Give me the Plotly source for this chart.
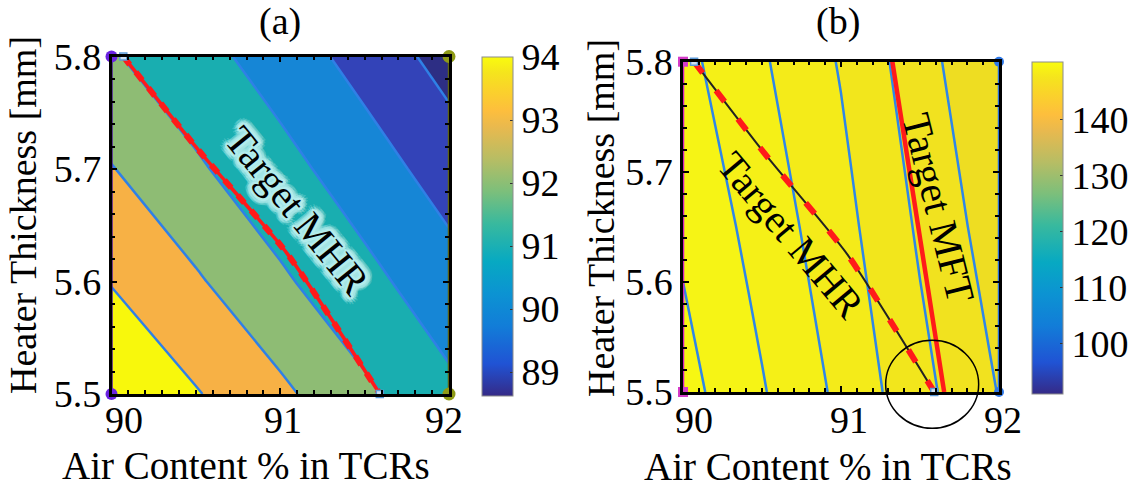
import math
import plotly.graph_objects as go

# ---------------- data ----------------
air = [90.0, 90.5, 91.0, 91.5, 92.0]                 # Air content % in TCRs
thick_a = [5.5, 5.6, 5.7, 5.8]                       # heater thickness (panel a grid)
mhr_a = [[94.28, 93.56, 92.79, 91.87, 91.00],
         [93.46, 92.71, 91.84, 91.05, 90.27],
         [92.64, 91.82, 91.09, 90.33, 89.49],
         [91.78, 91.12, 90.39, 89.56, 88.66]]
thick_b = [5.5, 5.65, 5.8]                           # heater thickness (panel b grid)
mft_b = [[149.68, 149.04, 148.39, 147.65, 146.98],
         [149.41, 148.80, 148.17, 147.43, 146.72],
         [149.14, 148.56, 147.96, 147.21, 146.46]]

levels_a = dict(start=89.0, end=93.5, size=0.9)
levels_b = dict(start=147.0, end=149.5, size=0.5)

target_mhr_x = [90.07, 90.52, 91.04, 91.59]
target_mhr_y = [5.8, 5.716, 5.625, 5.5]
target_mft_x = [91.325, 91.653]
target_mft_y = [5.8, 5.5]

x_ticks = [90, 91, 92]
x_tick_labels = ["90", "91", "92"]
y_ticks = [5.5, 5.6, 5.7, 5.8]
cbar_a_ticks = [89, 90, 91, 92, 93, 94]
cbar_a_range = [88.62, 94.0]
cbar_b_ticks = [100, 110, 120, 130, 140]
cbar_b_range = [91.0, 150.3]

circle_center = (91.577, 5.507)   # highlight circle in panel (b)
circle_radius_px = (46.5, 44)

# ---------------- styling ----------------
FONT = "Liberation Serif"
FS_TICK = 38
FS_XT = 39
FS_YT = 38

parula = [
    [0 / 63, "rgb(53,42,135)"], [6 / 63, "rgb(32,83,212)"], [13 / 63, "rgb(18,125,216)"],
    [19 / 63, "rgb(12,147,210)"], [25 / 63, "rgb(7,169,194)"], [32 / 63, "rgb(56,185,158)"],
    [38 / 63, "rgb(124,191,123)"], [44 / 63, "rgb(183,189,100)"], [50 / 63, "rgb(233,185,78)"],
    [53 / 63, "rgb(253,190,61)"], [57 / 63, "rgb(250,211,42)"], [60 / 63, "rgb(245,228,29)"],
    [63 / 63, "rgb(249,251,14)"],
]

bands_a = ["#2d2e84", "#3343b8", "#1686d6", "#19aeb0", "#8ebc74", "#f7b145", "#f8f80c"]
bands_b = ["#eedd22", "#f1e21f", "#f2e61c", "#f4eb19", "#f5f017", "#f6f415", "#f7f713"]


def band_scale(cols):
    n = len(cols) - 1
    return [[k / n, c] for k, c in enumerate(cols)]


W, H = 1133, 490
dom_ax = [111.5 / W, 449 / W]
dom_ay = [(H - 394) / H, (H - 56.5) / H]
dom_bx = [683 / W, 999 / W]
dom_by = [(H - 392) / H, (H - 61.7) / H]

fig = go.Figure()

# ---- panel (a) contour ----
fig.add_trace(go.Contour(
    x=air, y=thick_a, z=mhr_a, xaxis="x", yaxis="y",
    contours=dict(coloring="fill", showlines=True, **levels_a),
    colorscale=band_scale(bands_a), showscale=False,
    line=dict(color="#2f80e6", width=2.5, smoothing=0.6), hoverinfo="skip"))

# ---- panel (b) contour ----
fig.add_trace(go.Contour(
    x=air, y=thick_b, z=mft_b, xaxis="x2", yaxis="y2",
    contours=dict(coloring="fill", showlines=True, **levels_b),
    colorscale=band_scale(bands_b), showscale=False,
    line=dict(color="#2f86e8", width=2.5, smoothing=0.6), hoverinfo="skip"))

# ---- target lines panel (a) ----
fig.add_trace(go.Scatter(x=target_mhr_x, y=target_mhr_y, xaxis="x", yaxis="y", mode="lines",
                         line=dict(color="#ff1a1a", width=3.5, shape="spline", smoothing=0.6),
                         showlegend=False, hoverinfo="skip"))
fig.add_trace(go.Scatter(x=target_mhr_x, y=target_mhr_y, xaxis="x", yaxis="y", mode="lines",
                         line=dict(color="#ff1a1a", width=6, dash="10px,10px", shape="spline", smoothing=0.6),
                         showlegend=False, hoverinfo="skip"))

# ---- target lines panel (b) ----
fig.add_trace(go.Scatter(x=target_mhr_x, y=target_mhr_y, xaxis="x2", yaxis="y2", mode="lines",
                         line=dict(color="#222222", width=2, shape="spline", smoothing=0.6),
                         showlegend=False, hoverinfo="skip"))
fig.add_trace(go.Scatter(x=target_mhr_x, y=target_mhr_y, xaxis="x2", yaxis="y2", mode="lines",
                         line=dict(color="#ff1a1a", width=6, dash="14px,22px", shape="spline", smoothing=0.6),
                         showlegend=False, hoverinfo="skip"))
fig.add_trace(go.Scatter(x=target_mft_x, y=target_mft_y, xaxis="x2", yaxis="y2", mode="lines",
                         line=dict(color="#ff1a1a", width=4.5),
                         showlegend=False, hoverinfo="skip"))

# ---- edge lines and corner markers ----
edges = [
    ("x", "y", air[0], thick_a, "#4a1a9a", "#6a22e0", 12, "circle"),
    ("x", "y", air[-1], thick_a, "#5d6212", "#8e9a16", 13, "circle"),
    ("x2", "y2", air[0], thick_b, "#d020c0", "#d43cc8", 10, "square"),
    ("x2", "y2", air[-1], thick_b, "#2a6fe0", "#2f78e6", 10, "circle"),
]
for xa, ya, xv, ys, lc, mc, ms, sym in edges:
    fig.add_trace(go.Scatter(x=[xv, xv], y=[ys[0], ys[-1]], xaxis=xa, yaxis=ya, mode="lines+markers",
                             line=dict(color=lc, width=2.5), marker=dict(color=mc, size=ms, symbol=sym),
                             cliponaxis=False, showlegend=False, hoverinfo="skip"))

for xa, ya in [("x", "y"), ("x2", "y2")]:
    fig.add_trace(go.Scatter(x=[target_mhr_x[0], target_mhr_x[-1]], y=[target_mhr_y[0], target_mhr_y[-1]],
                             xaxis=xa, yaxis=ya, mode="markers",
                             marker=dict(symbol="square", size=7, color="#cfe0f2",
                                         line=dict(color="#5c9ad8", width=1.5)),
                             cliponaxis=False, showlegend=False, hoverinfo="skip"))

# ---- colorbars (continuous parula) ----
cb_common = dict(thickness=31, thicknessmode="pixels", lenmode="pixels", xanchor="left", yanchor="middle",
                 xpad=0, ypad=0, outlinecolor="#8c8c8c", outlinewidth=1, ticks="inside", ticklen=3,
                 tickcolor="#333333", tickfont=dict(family=FONT, size=FS_TICK, color="black"))
fig.add_trace(go.Scatter(x=[None], y=[None], xaxis="x", yaxis="y", mode="markers",
                         marker=dict(color=[cbar_a_range[1]], cmin=cbar_a_range[0], cmax=cbar_a_range[1],
                                     colorscale=parula, showscale=True,
                                     colorbar=dict(x=481.5 / W, y=(H - 226.5) / H, len=339,
                                                   tickvals=cbar_a_ticks, **cb_common)),
                         showlegend=False, hoverinfo="skip"))
fig.add_trace(go.Scatter(x=[None], y=[None], xaxis="x2", yaxis="y2", mode="markers",
                         marker=dict(color=[cbar_b_range[1]], cmin=cbar_b_range[0], cmax=cbar_b_range[1],
                                     colorscale=parula, showscale=True,
                                     colorbar=dict(x=1032 / W, y=(H - 227.8) / H, len=332,
                                                   tickvals=cbar_b_ticks, **cb_common)),
                         showlegend=False, hoverinfo="skip"))

# ---- axes ----
tickfont = dict(family=FONT, size=FS_TICK, color="black")


def xaxis(domain, anchor):
    return dict(domain=domain, anchor=anchor, range=[air[0], air[-1]], tickvals=x_ticks,
                showticklabels=False,
                showline=True, linecolor="black", linewidth=2.5, mirror="ticks",
                ticks="inside", ticklen=6, tickwidth=1.5, tickcolor="black",
                minor=dict(ticks="inside", dtick=0.1, ticklen=4, tickwidth=1.5, tickcolor="black", showgrid=False),
                showgrid=False, zeroline=False, automargin=False)


def yaxis(domain, anchor, rng):
    return dict(domain=domain, anchor=anchor, range=[rng[0], rng[-1]], tickvals=y_ticks,
                ticktext=[f"{v:.1f}" for v in y_ticks],
                showline=True, linecolor="black", linewidth=2.5, mirror="ticks",
                ticks="inside", ticklen=6, tickwidth=1.5, tickcolor="black",
                minor=dict(ticks="inside", dtick=0.02, ticklen=4, tickwidth=1.5, tickcolor="black", showgrid=False),
                showgrid=False, zeroline=False, tickfont=tickfont, automargin=False)


fig.update_layout(
    width=W, height=H, margin=dict(l=0, r=0, t=0, b=0),
    paper_bgcolor="white", plot_bgcolor="white", showlegend=False,
    font=dict(family=FONT, color="black"),
    xaxis=xaxis(dom_ax, "y"), yaxis=yaxis(dom_ay, "x", thick_a),
    xaxis2=xaxis(dom_bx, "y2"), yaxis2=yaxis(dom_by, "x2", thick_b),
)

# ---- x tick labels (nudged as in the original export) ----
for xa, shifts in [("x", [12, 3, -5]), ("x2", [11, 8, 4])]:
    for v, t, s in zip(x_ticks, x_tick_labels, shifts):
        fig.add_annotation(text=t, xref=xa, yref="paper", x=v, y=(H - 420) / H, xshift=s, showarrow=False,
                           font=dict(family=FONT, size=FS_TICK, color="black"),
                           xanchor="center", yanchor="middle")

# ---- panel titles & axis titles (paper positioned) ----
titles = [
    ("(a)", 280 / W, (H - 22) / H, 0, FS_TICK),
    ("(b)", 838 / W, (H - 22) / H, 0, FS_TICK),
    ("Air Content % in TCRs", 246 / W, (H - 465) / H, 0, FS_XT),
    ("Air Content % in TCRs", 828 / W, (H - 466) / H, 0, FS_XT),
    ("Heater Thickness [mm]", 23 / W, (H - 215) / H, -90, FS_YT),
    ("Heater Thickness [mm]", 601 / W, (H - 218) / H, -90, FS_YT),
]
for txt, px, py, ang, fs in titles:
    fig.add_annotation(text=txt, xref="paper", yref="paper", x=px, y=py, showarrow=False, textangle=ang,
                       font=dict(family=FONT, size=fs, color="black"), xanchor="center", yanchor="middle")


# ---- rotated in-plot labels ----
def label(text, xa, ya, x, y, angle, glow=False):
    if glow:
        for r, col in [(7, "rgba(160,228,228,0.30)"), (5, "rgba(165,230,230,0.55)"), (2.5, "#b2ecec")]:
            for k in range(16):
                a = 2 * math.pi * k / 16
                fig.add_annotation(text=text, xref=xa, yref=ya, x=x, y=y, showarrow=False, textangle=angle,
                                   xshift=r * math.cos(a), yshift=r * math.sin(a),
                                   font=dict(family=FONT, size=40, color=col))
    fig.add_annotation(text=text, xref=xa, yref=ya, x=x, y=y, showarrow=False, textangle=angle,
                       font=dict(family=FONT, size=40, color="black"))


label("Target MHR", "x", "y", 91.10, 5.663, 51, glow=True)
label("Target MHR", "x2", "y2", 90.686, 5.6425, 50)
label("Target MFT", "x2", "y2", 91.62, 5.667, 76)

# ---- highlight circle (panel b), positioned in axis-domain units ----
cx = (circle_center[0] - air[0]) / (air[-1] - air[0])
cy = (circle_center[1] - thick_b[0]) / (thick_b[-1] - thick_b[0])
rx = circle_radius_px[0] / ((dom_bx[1] - dom_bx[0]) * W)
ry = circle_radius_px[1] / ((dom_by[1] - dom_by[0]) * H)
fig.add_shape(type="circle", xref="x2 domain", yref="y2 domain", x0=cx - rx, x1=cx + rx, y0=cy - ry, y1=cy + ry,
              line=dict(color="black", width=1.5), layer="above")

fig.write_html("out.html")
